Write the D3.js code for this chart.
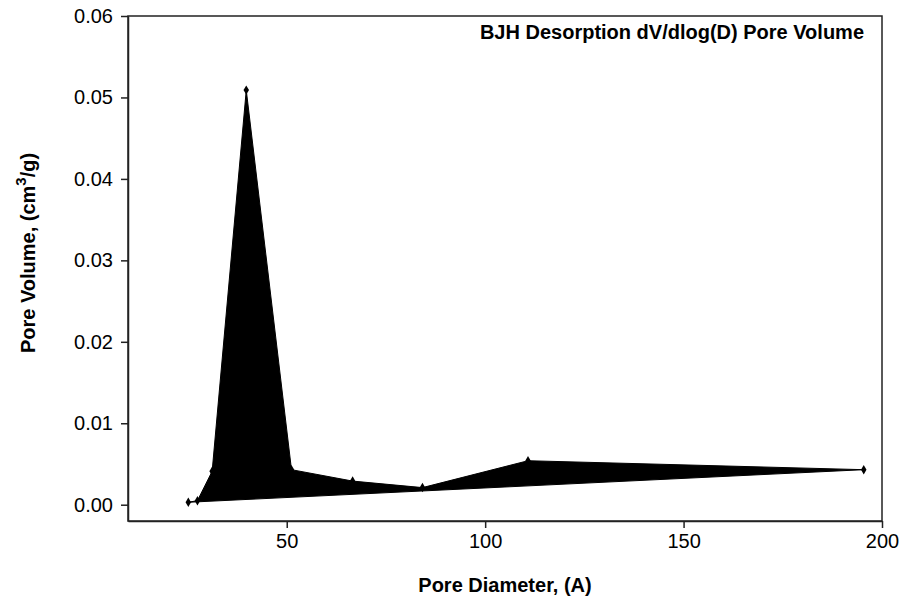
<!DOCTYPE html>
<html>
<head>
<meta charset="utf-8">
<script src="https://cdn.jsdelivr.net/npm/d3@7"></script>
<style>
  body { margin: 0; background: #fff; }
  svg { display: block; font-family: "Liberation Sans", Arial, sans-serif; }
</style>
</head>
<body>
<div id="vis"></div>
<script>
const width = 902;
const height = 608;

// BJH desorption pore size distribution
const poreDiameter = [25.2, 27.5, 31.2, 39.8, 51.2, 66.6, 84.2, 110.8, 195.4];
const poreVolume = [0.0003, 0.0005, 0.0041, 0.0509, 0.0043, 0.0029, 0.0021, 0.0054, 0.0043];
const xTicks = [50, 100, 150, 200];
const yTicks = [0, 0.01, 0.02, 0.03, 0.04, 0.05, 0.06];

const data = poreDiameter.map((d, i) => ({ x: d, y: poreVolume[i] }));

const plotLeft = 128, plotRight = 882, plotTop = 16, plotBottom = 521;

const svg = d3.select("#vis")
  .append("svg")
  .attr("width", width)
  .attr("height", height);

const x = d3.scaleLinear().domain([10, 200]).range([plotLeft, plotRight]);
const y = d3.scaleLinear().domain([-0.002, 0.06]).range([plotBottom, plotTop]);

// filled polygon, closed from last point back to the first
svg.append("path")
  .attr("fill", "#000")
  .attr("stroke", "#000")
  .attr("stroke-width", 1)
  .attr("stroke-linejoin", "round")
  .attr("d", d3.line().x(d => x(d.x)).y(d => y(d.y))(data) + "Z");

svg.selectAll(".pt")
  .data(data)
  .enter()
  .append("path")
  .attr("class", "pt")
  .attr("transform", d => `translate(${x(d.x)},${y(d.y)})`)
  .attr("d", d3.symbol().type(d3.symbolDiamond).size(26))
  .attr("fill", "#000");

// frame
svg.append("rect")
  .attr("x", plotLeft)
  .attr("y", plotTop)
  .attr("width", plotRight - plotLeft)
  .attr("height", plotBottom - plotTop)
  .attr("fill", "none")
  .attr("stroke", "#222")
  .attr("stroke-width", 1.5);

const xAxis = svg.append("g")
  .attr("transform", `translate(0,${plotBottom})`)
  .call(d3.axisBottom(x).tickValues(xTicks).tickSize(7).tickSizeOuter(0).tickPadding(6));

const yAxis = svg.append("g")
  .attr("transform", `translate(${plotLeft},0)`)
  .call(d3.axisLeft(y).tickValues(yTicks).tickFormat(d3.format(".2f")).tickSize(7).tickSizeOuter(0).tickPadding(8));

[xAxis, yAxis].forEach(g => {
  g.select(".domain").attr("stroke", "#222").attr("stroke-width", 1.5);
  g.selectAll(".tick line").attr("stroke", "#222").attr("stroke-width", 1.5);
  g.selectAll(".tick text")
    .attr("fill", "#000")
    .attr("font-size", "20px")
    .attr("font-family", "Liberation Sans, Arial, sans-serif");
});

svg.append("text")
  .attr("x", 864)
  .attr("y", 39)
  .attr("text-anchor", "end")
  .attr("font-size", "20px")
  .attr("font-weight", "bold")
  .text("BJH Desorption dV/dlog(D) Pore Volume");

svg.append("text")
  .attr("x", (plotLeft + plotRight) / 2)
  .attr("y", 592)
  .attr("text-anchor", "middle")
  .attr("font-size", "20px")
  .attr("font-weight", "bold")
  .text("Pore Diameter, (A)");

const yTitle = svg.append("text")
  .attr("transform", "translate(35,253) rotate(-90)")
  .attr("text-anchor", "middle")
  .attr("font-size", "20px")
  .attr("font-weight", "bold");
yTitle.append("tspan").text("Pore Volume, (cm");
yTitle.append("tspan").attr("dy", -9).attr("font-size", "15px").text("3");
yTitle.append("tspan").attr("dy", 9).text("/g)");
</script>
</body>
</html>
